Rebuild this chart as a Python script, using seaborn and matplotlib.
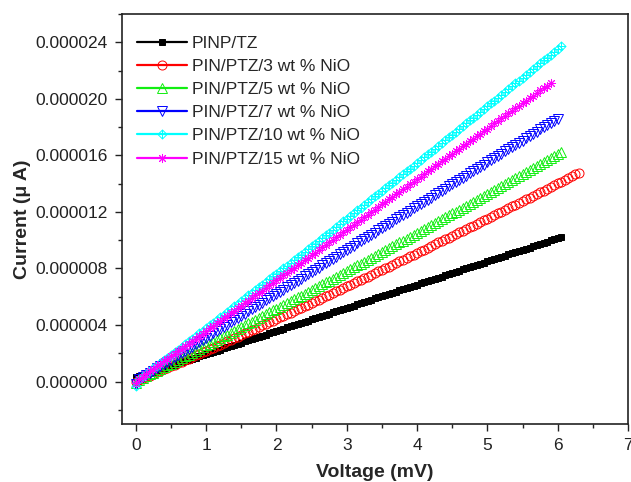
import numpy as np
import pandas as pd
import matplotlib
matplotlib.use("Agg")
import matplotlib.pyplot as plt
from matplotlib.path import Path
from matplotlib.ticker import MultipleLocator, FormatStrFormatter
import seaborn as sns

# voltage steps (mV), shared by all samples; each sample uses the first N points
voltage = [0.00, 0.05, 0.10, 0.15, 0.20, 0.25, 0.30, 0.35, 0.40, 0.45,
           0.50, 0.55, 0.60, 0.65, 0.70, 0.75, 0.80, 0.85, 0.90, 0.95,
           1.00, 1.05, 1.10, 1.15, 1.20, 1.25, 1.30, 1.35, 1.40, 1.45,
           1.50, 1.55, 1.60, 1.65, 1.70, 1.75, 1.80, 1.85, 1.90, 1.95,
           2.00, 2.05, 2.10, 2.15, 2.20, 2.25, 2.30, 2.35, 2.40, 2.45,
           2.50, 2.55, 2.60, 2.65, 2.70, 2.75, 2.80, 2.85, 2.90, 2.95,
           3.00, 3.05, 3.10, 3.15, 3.20, 3.25, 3.30, 3.35, 3.40, 3.45,
           3.50, 3.55, 3.60, 3.65, 3.70, 3.75, 3.80, 3.85, 3.90, 3.95,
           4.00, 4.05, 4.10, 4.15, 4.20, 4.25, 4.30, 4.35, 4.40, 4.45,
           4.50, 4.55, 4.60, 4.65, 4.70, 4.75, 4.80, 4.85, 4.90, 4.95,
           5.00, 5.05, 5.10, 5.15, 5.20, 5.25, 5.30, 5.35, 5.40, 5.45,
           5.50, 5.55, 5.60, 5.65, 5.70, 5.75, 5.80, 5.85, 5.90, 5.95,
           6.00, 6.05, 6.10, 6.15, 6.20, 6.25, 6.30]

# currents, in units of 1e-6 A
pinp_tz = [0.30, 0.38, 0.46, 0.55, 0.63, 0.71, 0.79, 0.87, 0.96, 1.04,
           1.12, 1.20, 1.28, 1.37, 1.45, 1.53, 1.61, 1.69, 1.78, 1.86,
           1.94, 2.02, 2.10, 2.19, 2.27, 2.35, 2.43, 2.51, 2.60, 2.68,
           2.76, 2.84, 2.92, 3.01, 3.09, 3.17, 3.25, 3.33, 3.42, 3.50,
           3.58, 3.66, 3.74, 3.83, 3.91, 3.99, 4.07, 4.15, 4.24, 4.32,
           4.40, 4.48, 4.56, 4.65, 4.73, 4.81, 4.89, 4.97, 5.06, 5.14,
           5.22, 5.30, 5.38, 5.47, 5.55, 5.63, 5.71, 5.79, 5.88, 5.96,
           6.04, 6.12, 6.20, 6.29, 6.37, 6.45, 6.53, 6.61, 6.70, 6.78,
           6.86, 6.94, 7.02, 7.11, 7.19, 7.27, 7.35, 7.43, 7.52, 7.60,
           7.68, 7.76, 7.84, 7.93, 8.01, 8.09, 8.17, 8.25, 8.34, 8.42,
           8.50, 8.58, 8.66, 8.75, 8.83, 8.91, 8.99, 9.07, 9.16, 9.24,
           9.32, 9.40, 9.48, 9.57, 9.65, 9.73, 9.81, 9.89, 9.98, 10.06,
           10.14, 10.22]
nio_3 = [-0.05, 0.11, 0.22, 0.32, 0.43, 0.54, 0.65, 0.76, 0.87, 0.97,
         1.08, 1.19, 1.30, 1.41, 1.52, 1.63, 1.74, 1.85, 1.96, 2.07,
         2.18, 2.29, 2.40, 2.51, 2.62, 2.74, 2.85, 2.96, 3.07, 3.18,
         3.29, 3.41, 3.52, 3.63, 3.74, 3.86, 3.97, 4.08, 4.20, 4.31,
         4.42, 4.54, 4.65, 4.77, 4.88, 4.99, 5.11, 5.22, 5.34, 5.45,
         5.57, 5.68, 5.80, 5.92, 6.03, 6.15, 6.26, 6.38, 6.50, 6.61,
         6.73, 6.85, 6.96, 7.08, 7.20, 7.31, 7.43, 7.55, 7.67, 7.79,
         7.90, 8.02, 8.14, 8.26, 8.38, 8.50, 8.62, 8.74, 8.86, 8.98,
         9.10, 9.22, 9.34, 9.46, 9.58, 9.70, 9.86, 9.94, 10.06, 10.18,
         10.30, 10.42, 10.55, 10.67, 10.79, 10.91, 11.03, 11.16, 11.28, 11.40,
         11.53, 11.65, 11.77, 11.89, 12.02, 12.14, 12.27, 12.39, 12.51, 12.64,
         12.76, 12.89, 13.01, 13.14, 13.26, 13.39, 13.51, 13.64, 13.76, 13.89,
         14.02, 14.14, 14.27, 14.40, 14.52, 14.65, 14.78]
nio_5 = [-0.10, 0.13, 0.25, 0.38, 0.51, 0.63, 0.76, 0.89, 1.02, 1.14,
         1.27, 1.40, 1.53, 1.65, 1.78, 1.91, 2.04, 2.17, 2.30, 2.43,
         2.56, 2.68, 2.81, 2.94, 3.07, 3.20, 3.33, 3.46, 3.59, 3.72,
         3.85, 3.98, 4.11, 4.24, 4.37, 4.50, 4.63, 4.77, 4.90, 5.03,
         5.16, 5.29, 5.42, 5.56, 5.69, 5.82, 5.95, 6.08, 6.22, 6.35,
         6.48, 6.61, 6.75, 6.88, 7.01, 7.15, 7.28, 7.41, 7.55, 7.68,
         7.82, 7.95, 8.08, 8.22, 8.35, 8.49, 8.62, 8.76, 8.89, 9.03,
         9.16, 9.30, 9.43, 9.57, 9.70, 9.84, 9.97, 10.11, 10.25, 10.38,
         10.52, 10.66, 10.79, 10.93, 11.07, 11.20, 11.34, 11.48, 11.62, 11.75,
         11.89, 12.03, 12.17, 12.31, 12.44, 12.58, 12.72, 12.86, 13.00, 13.14,
         13.28, 13.41, 13.55, 13.69, 13.83, 13.97, 14.11, 14.25, 14.39, 14.53,
         14.67, 14.81, 14.95, 15.09, 15.23, 15.37, 15.51, 15.66, 15.80, 15.94,
         16.08, 16.22]
nio_7 = [-0.15, 0.16, 0.31, 0.47, 0.62, 0.78, 0.93, 1.09, 1.24, 1.40,
         1.55, 1.71, 1.86, 2.02, 2.17, 2.33, 2.48, 2.64, 2.79, 2.95,
         3.10, 3.26, 3.41, 3.57, 3.72, 3.88, 4.03, 4.19, 4.34, 4.50,
         4.65, 4.81, 4.96, 5.12, 5.27, 5.43, 5.58, 5.74, 5.89, 6.05,
         6.20, 6.36, 6.51, 6.67, 6.82, 6.98, 7.13, 7.29, 7.44, 7.60,
         7.75, 7.91, 8.06, 8.22, 8.37, 8.53, 8.68, 8.84, 8.99, 9.15,
         9.30, 9.46, 9.61, 9.77, 9.92, 10.08, 10.23, 10.39, 10.54, 10.70,
         10.85, 11.01, 11.16, 11.32, 11.47, 11.63, 11.78, 11.94, 12.09, 12.25,
         12.40, 12.56, 12.71, 12.87, 13.02, 13.18, 13.33, 13.49, 13.64, 13.80,
         13.95, 14.11, 14.26, 14.42, 14.57, 14.73, 14.88, 15.04, 15.19, 15.35,
         15.50, 15.66, 15.81, 15.97, 16.12, 16.28, 16.43, 16.59, 16.74, 16.90,
         17.05, 17.21, 17.36, 17.52, 17.67, 17.83, 17.98, 18.14, 18.29, 18.45,
         18.60]
nio_10 = [-0.30, 0.19, 0.38, 0.56, 0.75, 0.94, 1.13, 1.32, 1.51, 1.70,
          1.89, 2.08, 2.27, 2.46, 2.65, 2.84, 3.03, 3.22, 3.41, 3.60,
          3.79, 3.98, 4.17, 4.36, 4.55, 4.74, 4.93, 5.13, 5.32, 5.51,
          5.70, 5.89, 6.09, 6.28, 6.47, 6.66, 6.86, 7.05, 7.24, 7.44,
          7.63, 7.82, 8.02, 8.21, 8.40, 8.60, 8.79, 8.98, 9.18, 9.37,
          9.57, 9.76, 9.96, 10.15, 10.35, 10.54, 10.74, 10.94, 11.13, 11.33,
          11.52, 11.72, 11.92, 12.11, 12.31, 12.51, 12.70, 12.90, 13.10, 13.29,
          13.49, 13.69, 13.89, 14.08, 14.28, 14.48, 14.68, 14.88, 15.07, 15.27,
          15.47, 15.67, 15.87, 16.07, 16.27, 16.47, 16.67, 16.87, 17.07, 17.27,
          17.47, 17.67, 17.87, 18.07, 18.27, 18.47, 18.67, 18.87, 19.07, 19.27,
          19.48, 19.68, 19.88, 20.08, 20.28, 20.48, 20.69, 20.89, 21.09, 21.29,
          21.50, 21.70, 21.90, 22.11, 22.31, 22.51, 22.72, 22.92, 23.12, 23.32,
          23.53, 23.74]
nio_15 = [-0.10, 0.18, 0.36, 0.54, 0.72, 0.90, 1.07, 1.25, 1.43, 1.61,
          1.79, 1.97, 2.15, 2.33, 2.51, 2.69, 2.86, 3.04, 3.22, 3.40,
          3.58, 3.76, 3.94, 4.12, 4.30, 4.48, 4.65, 4.83, 5.01, 5.19,
          5.37, 5.55, 5.73, 5.91, 6.09, 6.27, 6.44, 6.62, 6.80, 6.98,
          7.16, 7.34, 7.52, 7.70, 7.88, 8.06, 8.23, 8.41, 8.59, 8.77,
          8.95, 9.13, 9.31, 9.49, 9.67, 9.85, 10.02, 10.20, 10.38, 10.56,
          10.74, 10.92, 11.10, 11.28, 11.46, 11.64, 11.81, 11.99, 12.17, 12.35,
          12.53, 12.71, 12.89, 13.07, 13.25, 13.43, 13.60, 13.78, 13.96, 14.14,
          14.32, 14.50, 14.68, 14.86, 15.04, 15.22, 15.39, 15.57, 15.75, 15.93,
          16.11, 16.29, 16.47, 16.65, 16.83, 17.01, 17.18, 17.36, 17.54, 17.72,
          17.90, 18.08, 18.26, 18.44, 18.62, 18.80, 18.97, 19.15, 19.33, 19.51,
          19.69, 19.87, 20.05, 20.23, 20.41, 20.59, 20.76, 20.94, 21.12]

labels = ["PINP/TZ", "PIN/PTZ/3 wt % NiO", "PIN/PTZ/5 wt % NiO",
          "PIN/PTZ/7 wt % NiO", "PIN/PTZ/10 wt % NiO", "PIN/PTZ/15 wt % NiO"]
series = [pinp_tz, nio_3, nio_5, nio_7, nio_10, nio_15]
colors = ["black", "red", "#11ee11", "blue", "cyan", "magenta"]

# diamond with a cross inside, like the Origin symbol
diamond_plus = Path([(0, 1), (1, 0), (0, -1), (-1, 0), (0, 1),
                     (0, 1), (0, -1), (-1, 0), (1, 0)],
                    [Path.MOVETO, Path.LINETO, Path.LINETO, Path.LINETO, Path.CLOSEPOLY,
                     Path.MOVETO, Path.LINETO, Path.MOVETO, Path.LINETO])
markers = ["s", "o", "^", "v", diamond_plus, (8, 2, 0)]

sns.set_style("ticks")
plt.rcParams["font.family"] = ["Liberation Sans", "DejaVu Sans"]

fig = plt.figure(figsize=(6.31, 4.82), dpi=100)
ax = fig.add_axes([0.193, 0.1203, 0.8022, 0.8507])

for lab, cur, col, mk in zip(labels, series, colors, markers):
    df = pd.DataFrame({"Voltage": voltage[:len(cur)],
                       "Current": np.array(cur) * 1e-6})
    filled = mk == "s"
    # symbols only on the data, the connecting line only shows in the legend
    sns.lineplot(data=df, x="Voltage", y="Current", ax=ax, color=col,
                 linewidth=0, marker=mk,
                 markersize=5 if filled else 6.5,
                 markerfacecolor=col if filled else "none",
                 markeredgecolor=col, markeredgewidth=0.7,
                 label=lab, sort=False, estimator=None)

ax.set_xlim(-0.2, 7.0)
ax.set_ylim(-3e-6, 26e-6)
ax.xaxis.set_major_locator(MultipleLocator(1))
ax.xaxis.set_minor_locator(MultipleLocator(0.5))
ax.yaxis.set_major_locator(MultipleLocator(4e-6))
ax.yaxis.set_minor_locator(MultipleLocator(2e-6))
ax.yaxis.set_major_formatter(FormatStrFormatter("%.6f"))
ax.xaxis.set_major_formatter(FormatStrFormatter("%d"))
ax.tick_params(which="major", direction="out", length=5, width=1, labelsize=12.5,
               pad=5, top=False, right=False, colors="#222222")
ax.tick_params(which="minor", direction="out", length=3, width=1,
               top=False, right=False, colors="#222222")
for sp in ax.spines.values():
    sp.set_visible(True)
    sp.set_linewidth(1.2)
    sp.set_color("#222222")

ax.set_xlabel("Voltage (mV)", fontsize=14, fontweight="bold", labelpad=8)
ax.set_ylabel("Current (\u03bc A)", fontsize=14, fontweight="bold", labelpad=3)

leg = ax.legend(loc="upper left", bbox_to_anchor=(0.0, 0.985), frameon=False,
                fontsize=12.5, handlelength=2.85, handletextpad=0.3,
                labelspacing=0.46, borderaxespad=0.5)
for h in leg.get_lines():
    h.set_linewidth(1.6)
    h.set_linestyle("-")

fig.savefig("out.png", dpi=100)
